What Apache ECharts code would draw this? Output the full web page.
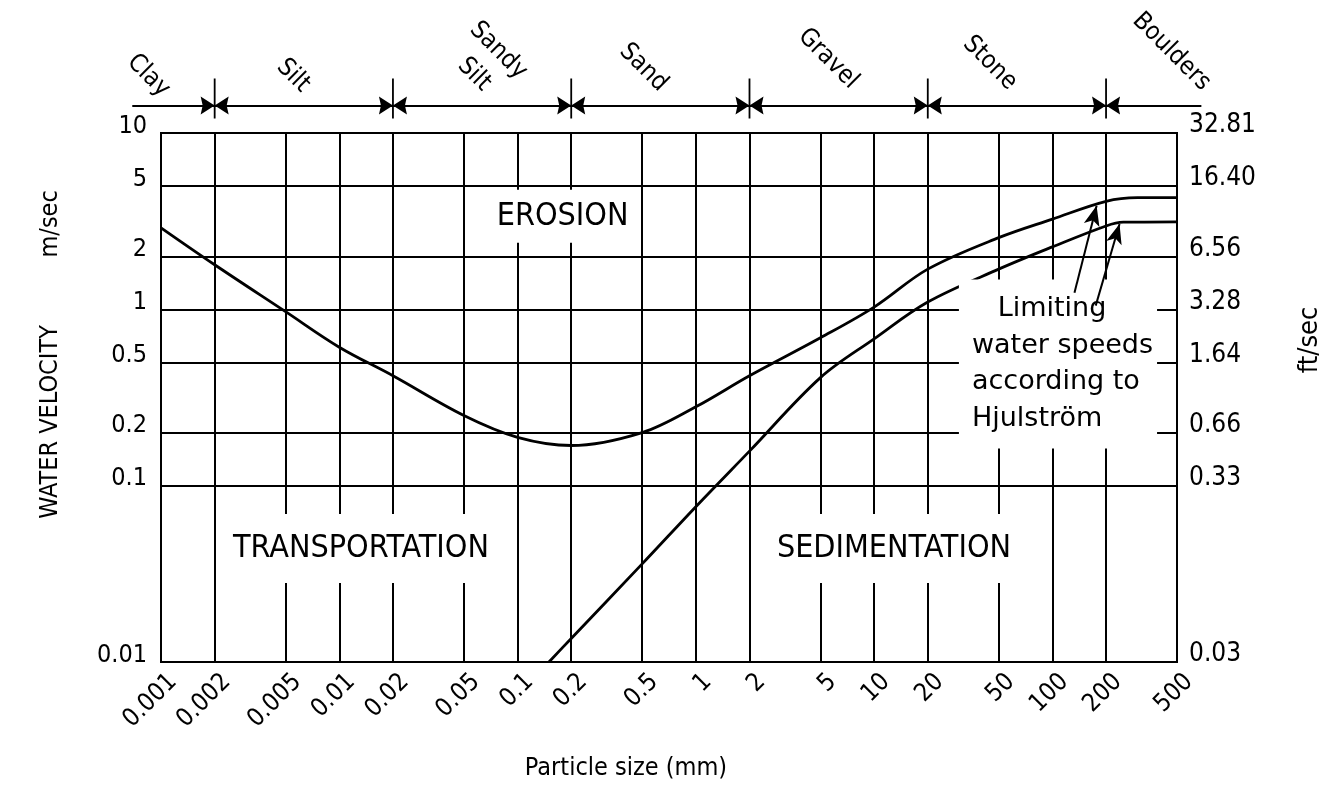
<!DOCTYPE html>
<html>
<head>
<meta charset="utf-8">
<script src="https://cdn.jsdelivr.net/npm/echarts@6/dist/echarts.min.js"></script>
<style>html,body{margin:0;padding:0;background:#fff}#c{width:1331px;height:795px}</style>
</head>
<body>
<div id="c"></div>
<script>
// ---------- data ----------
const sizeTicks = [0.001,0.002,0.005,0.01,0.02,0.05,0.1,0.2,0.5,1,2,5,10,20,50,100,200,500];
const sizeTickLabels = ['0.001','0.002','0.005','0.01','0.02','0.05','0.1','0.2','0.5','1','2','5','10','20','50','100','200','500'];
const speedTicks = [10,5,2,1,0.5,0.2,0.1,0.01];
const speedTickLabels = ['10','5','2','1','0.5','0.2','0.1','0.01'];
const feetTickLabels = ['32.81','16.40','6.56','3.28','1.64','0.66','0.33','0.03'];

const classNames = ['Clay','Silt','Sandy\nSilt','Sand','Gravel','Stone','Boulders'];
const classBounds = [0.002,0.02,0.2,2,20,200];

// erosion limit (upper curve)
const erosionSize  = [0.001,0.002,0.005,0.01,0.02,0.05,0.1,0.2,0.5,1,2,5,10,20,50,100,200,300,500];
const erosionSpeed = [2.9,1.79,0.97,0.61,0.42,0.25,0.188,0.169,0.2,0.28,0.42,0.69,1.03,1.69,2.55,3.25,4.1,4.3,4.3];
// sedimentation limit (lower curve)
const sedimentSize  = [0.15,0.2,0.5,1,2,5,10,20,50,100,200,250,500];
const sedimentSpeed = [0.01,0.0136,0.036,0.076,0.157,0.41,0.68,1.1,1.69,2.26,2.97,3.12,3.13];

const regionNames = ['EROSION','TRANSPORTATION','SEDIMENTATION'];
const noteLines = ['   Limiting','water speeds','according to','Hjulström'];

// ---------- annotation anchors (data space: mm, m/s) ----------
const regionAnchors = [[0.179,3.37],[0.01323,0.044],[12.93,0.044]];
const noteAnchor = [29.9,0.49];
const classAnchors = [[0.000849,21.1],[0.00551,21.1],[0.0667,25.1],[0.508,23.5],[5.52,26.4],[44.6,24.9],[465,28.9]];
const bandSpeed = 14.3;
const bandExtent = [0.00069,685];
const arrowFrom = [[133,1.24],[175,1.05]];
const arrowTo   = [[177,3.87],[238,3.05]];

// ---------- build ----------
const FONT = '"DejaVu Sans", sans-serif';
const CFONT = '"DejaVu Sans Condensed", "DejaVu Sans", sans-serif';
const L = Math.log10;
const xMin = L(sizeTicks[0]), xMax = L(sizeTicks[sizeTicks.length-1]);
const yMin = L(0.01), yMax = L(10);
const pt = (s,v) => [L(s), L(v)];
function fmt(ticks, labels){
  return function(v){
    for (let i=0;i<ticks.length;i++) if (Math.abs(L(ticks[i])-v) < 1e-6) return labels[i];
    return '';
  };
}
const gridLine = {show:true, lineStyle:{color:'#000', width:2}};

const regionData = regionNames.map((n,i)=>({
  value: pt(regionAnchors[i][0], regionAnchors[i][1]),
  label: {formatter: n, padding: i===0 ? [12,3,12,3] : [27,10,13,10]}
}));
regionData.push({
  value: pt(noteAnchor[0], noteAnchor[1]),
  label: {formatter: noteLines.join('\n'), align:'left', fontFamily:FONT, fontSize:27, lineHeight:36.5, padding:[7,4,16,13]}
});

const chart = echarts.init(document.getElementById('c'));
chart.setOption({
  animation:false,
  backgroundColor:'#fff',
  grid:{left:161, right:152, top:133, bottom:133, show:true, borderColor:'#000', borderWidth:2},
  xAxis:{
    type:'value', min:xMin, max:xMax,
    name:'Particle size (mm)', nameLocation:'middle', nameGap:94,
    nameTextStyle:{fontFamily:CFONT, fontSize:25, color:'#000', padding:[0,86,0,0]},
    axisLine:{show:false},
    axisTick:{show:false, customValues:sizeTicks.map(L)},
    axisLabel:{customValues:sizeTicks.map(L), formatter:fmt(sizeTicks,sizeTickLabels), rotate:45, margin:28,
               padding:[0,-17,0,0], fontFamily:CFONT, fontSize:25, color:'#000'},
    splitLine:gridLine
  },
  yAxis:[{
    type:'value', min:yMin, max:yMax, position:'left',
    name:'WATER VELOCITY\u2003\u2003\u2003m/sec', nameLocation:'middle', nameGap:98, nameRotate:90,
    nameTextStyle:{fontFamily:CFONT, fontSize:25, color:'#000', padding:[0,0,0,86]},
    axisLine:{show:false},
    axisTick:{show:false, customValues:speedTicks.map(L)},
    axisLabel:{customValues:speedTicks.map(L), formatter:fmt(speedTicks,speedTickLabels), margin:14,
               fontFamily:CFONT, fontSize:25, color:'#000', verticalAlign:'bottom', lineHeight:14},
    splitLine:gridLine
  },{
    type:'value', min:yMin, max:yMax, position:'right',
    name:'ft/sec', nameLocation:'middle', nameGap:119, nameRotate:90,
    nameTextStyle:{fontFamily:CFONT, fontSize:27, color:'#000', padding:[0,0,0,115]},
    axisLine:{show:false},
    axisTick:{show:false, customValues:speedTicks.map(L)},
    axisLabel:{customValues:speedTicks.map(L), formatter:fmt(speedTicks,feetTickLabels), margin:12,
               fontFamily:CFONT, fontSize:26, color:'#000', verticalAlign:'bottom', lineHeight:15},
    splitLine:{show:false}
  }],
  series:[
    {type:'line', name:'erosion', z:3, smooth:0.35, showSymbol:false, silent:true,
     lineStyle:{color:'#000', width:2.8},
     data: erosionSize.map((s,i)=>pt(s, erosionSpeed[i]))},
    {type:'line', name:'sedimentation', z:3, smooth:0.35, showSymbol:false, silent:true,
     lineStyle:{color:'#000', width:2.8},
     data: sedimentSize.map((s,i)=>pt(s, sedimentSpeed[i]))},
    {type:'scatter', name:'regions', z:4, silent:true, symbol:'circle', symbolSize:1,
     itemStyle:{color:'rgba(0,0,0,0)', opacity:1},
     label:{show:true, position:'inside', fontFamily:CFONT, fontSize:32, lineHeight:29, color:'#000', backgroundColor:'#fff'},
     data: regionData},
    {type:'lines', name:'arrows', coordinateSystem:'cartesian2d', z:6, silent:true,
     symbol:['none','arrow'], symbolSize:[1,[12,20]],
     lineStyle:{color:'#000', width:2, opacity:1},
     data: arrowFrom.map((f,i)=>({coords:[pt(f[0],f[1]), pt(arrowTo[i][0],arrowTo[i][1])]}))},
    {type:'lines', name:'band', coordinateSystem:'cartesian2d', z:3, clip:false, silent:true,
     lineStyle:{color:'#000', width:2, opacity:1},
     data:[{coords:[pt(bandExtent[0],bandSpeed), pt(bandExtent[1],bandSpeed)]}]},
    {type:'scatter', name:'bounds', z:4, clip:false, silent:true,
     symbol:'path://M-0.9,-27 L0.9,-27 L0.9,13 L-0.9,13 Z M0,0 L-14,-9 L-12,0 L-14,9 Z M0,0 L14,-9 L12,0 L14,9 Z',
     symbolSize:[28,40], symbolOffset:[0,-7],
     itemStyle:{color:'#000', opacity:1},
     data: classBounds.map(b=>pt(b,bandSpeed))},
    {type:'scatter', name:'classes', z:4, clip:false, silent:true, symbol:'circle', symbolSize:1,
     itemStyle:{color:'rgba(0,0,0,0)', opacity:1},
     label:{show:true, position:'inside', rotate:-45, fontFamily:CFONT, fontSize:25, lineHeight:34, color:'#000',
            formatter: p => classNames[p.dataIndex]},
     data: classAnchors.map(a=>pt(a[0],a[1]))}
  ]
});
</script>
</body>
</html>
